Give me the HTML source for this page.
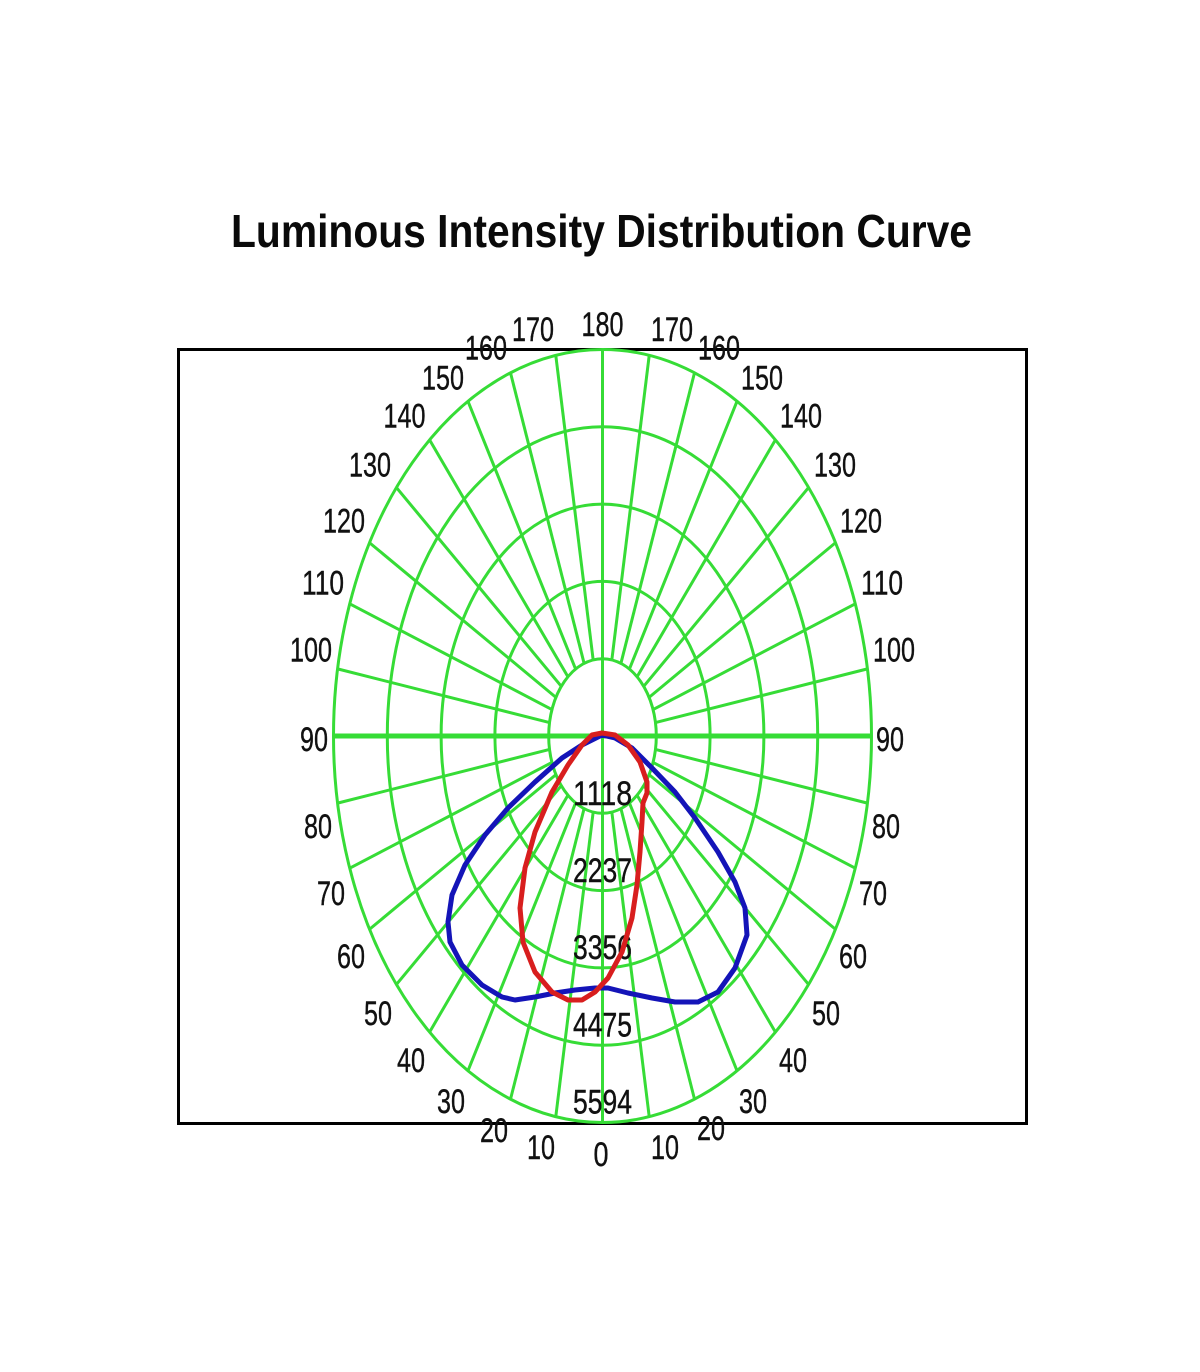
<!DOCTYPE html>
<html>
<head>
<meta charset="utf-8">
<style>
  html, body { margin: 0; padding: 0; background: #ffffff; }
  svg { display: block; }
  .lbl { font-family: "Liberation Sans", Arial, sans-serif; font-size: 34px; fill: #111; stroke: #111; stroke-width: 0.4px; text-anchor: middle; }
  .ttl { font-family: "Liberation Sans", Arial, sans-serif; font-size: 46px; font-weight: bold; fill: #0a0a0a; }
</style>
</head>
<body>
<svg width="1200" height="1372" viewBox="0 0 1200 1372" xmlns="http://www.w3.org/2000/svg">
  <rect x="0" y="0" width="1200" height="1372" fill="#ffffff"/>

  <!-- Title -->
  <text class="ttl" x="231" y="247" textLength="741" lengthAdjust="spacingAndGlyphs">Luminous Intensity Distribution Curve</text>

  <!-- Frame -->
  <rect x="178.5" y="349.5" width="848" height="774" fill="none" stroke="#000" stroke-width="3"/>

  <!-- Grid -->
  <g fill="none" stroke="#36dc36" stroke-width="3">
    <ellipse cx="602.5" cy="736" rx="53.8" ry="77.3"/>
    <ellipse cx="602.5" cy="736" rx="107.6" ry="154.6"/>
    <ellipse cx="602.5" cy="736" rx="161.4" ry="231.9"/>
    <ellipse cx="602.5" cy="736" rx="215.2" ry="309.2"/>
    <ellipse cx="602.5" cy="736" rx="269" ry="386.5"/>
  </g>
  <g transform="translate(602.5,736) scale(53.8,77.3)" stroke="#36dc36" fill="none">
    <g stroke-width="3">
      <line x1="0" y1="1" x2="0" y2="5" transform="rotate(10)" vector-effect="non-scaling-stroke"/>
      <line x1="0" y1="1" x2="0" y2="5" transform="rotate(20)" vector-effect="non-scaling-stroke"/>
      <line x1="0" y1="1" x2="0" y2="5" transform="rotate(30)" vector-effect="non-scaling-stroke"/>
      <line x1="0" y1="1" x2="0" y2="5" transform="rotate(40)" vector-effect="non-scaling-stroke"/>
      <line x1="0" y1="1" x2="0" y2="5" transform="rotate(50)" vector-effect="non-scaling-stroke"/>
      <line x1="0" y1="1" x2="0" y2="5" transform="rotate(60)" vector-effect="non-scaling-stroke"/>
      <line x1="0" y1="1" x2="0" y2="5" transform="rotate(70)" vector-effect="non-scaling-stroke"/>
      <line x1="0" y1="1" x2="0" y2="5" transform="rotate(80)" vector-effect="non-scaling-stroke"/>
      <line x1="0" y1="1" x2="0" y2="5" transform="rotate(100)" vector-effect="non-scaling-stroke"/>
      <line x1="0" y1="1" x2="0" y2="5" transform="rotate(110)" vector-effect="non-scaling-stroke"/>
      <line x1="0" y1="1" x2="0" y2="5" transform="rotate(120)" vector-effect="non-scaling-stroke"/>
      <line x1="0" y1="1" x2="0" y2="5" transform="rotate(130)" vector-effect="non-scaling-stroke"/>
      <line x1="0" y1="1" x2="0" y2="5" transform="rotate(140)" vector-effect="non-scaling-stroke"/>
      <line x1="0" y1="1" x2="0" y2="5" transform="rotate(150)" vector-effect="non-scaling-stroke"/>
      <line x1="0" y1="1" x2="0" y2="5" transform="rotate(160)" vector-effect="non-scaling-stroke"/>
      <line x1="0" y1="1" x2="0" y2="5" transform="rotate(170)" vector-effect="non-scaling-stroke"/>
      <line x1="0" y1="1" x2="0" y2="5" transform="rotate(190)" vector-effect="non-scaling-stroke"/>
      <line x1="0" y1="1" x2="0" y2="5" transform="rotate(200)" vector-effect="non-scaling-stroke"/>
      <line x1="0" y1="1" x2="0" y2="5" transform="rotate(210)" vector-effect="non-scaling-stroke"/>
      <line x1="0" y1="1" x2="0" y2="5" transform="rotate(220)" vector-effect="non-scaling-stroke"/>
      <line x1="0" y1="1" x2="0" y2="5" transform="rotate(230)" vector-effect="non-scaling-stroke"/>
      <line x1="0" y1="1" x2="0" y2="5" transform="rotate(240)" vector-effect="non-scaling-stroke"/>
      <line x1="0" y1="1" x2="0" y2="5" transform="rotate(250)" vector-effect="non-scaling-stroke"/>
      <line x1="0" y1="1" x2="0" y2="5" transform="rotate(260)" vector-effect="non-scaling-stroke"/>
      <line x1="0" y1="1" x2="0" y2="5" transform="rotate(280)" vector-effect="non-scaling-stroke"/>
      <line x1="0" y1="1" x2="0" y2="5" transform="rotate(290)" vector-effect="non-scaling-stroke"/>
      <line x1="0" y1="1" x2="0" y2="5" transform="rotate(300)" vector-effect="non-scaling-stroke"/>
      <line x1="0" y1="1" x2="0" y2="5" transform="rotate(310)" vector-effect="non-scaling-stroke"/>
      <line x1="0" y1="1" x2="0" y2="5" transform="rotate(320)" vector-effect="non-scaling-stroke"/>
      <line x1="0" y1="1" x2="0" y2="5" transform="rotate(330)" vector-effect="non-scaling-stroke"/>
      <line x1="0" y1="1" x2="0" y2="5" transform="rotate(340)" vector-effect="non-scaling-stroke"/>
      <line x1="0" y1="1" x2="0" y2="5" transform="rotate(350)" vector-effect="non-scaling-stroke"/>
      <line x1="0" y1="-5" x2="0" y2="5" vector-effect="non-scaling-stroke"/>
    </g>
    <line x1="-5" y1="0" x2="5" y2="0" stroke-width="5" vector-effect="non-scaling-stroke"/>
  </g>

  <!-- Angle labels -->
  <g>
    <text class="lbl" x="602.5" y="336" textLength="42" lengthAdjust="spacingAndGlyphs">180</text>
    <text class="lbl" x="533" y="341" textLength="42" lengthAdjust="spacingAndGlyphs">170</text>
    <text class="lbl" x="486" y="359.5" textLength="42" lengthAdjust="spacingAndGlyphs">160</text>
    <text class="lbl" x="443" y="389.5" textLength="42" lengthAdjust="spacingAndGlyphs">150</text>
    <text class="lbl" x="404.5" y="427.5" textLength="42" lengthAdjust="spacingAndGlyphs">140</text>
    <text class="lbl" x="370" y="476.5" textLength="42" lengthAdjust="spacingAndGlyphs">130</text>
    <text class="lbl" x="344" y="532.5" textLength="42" lengthAdjust="spacingAndGlyphs">120</text>
    <text class="lbl" x="323" y="594.5" textLength="42" lengthAdjust="spacingAndGlyphs">110</text>
    <text class="lbl" x="311" y="661.5" textLength="42" lengthAdjust="spacingAndGlyphs">100</text>
    <text class="lbl" x="314" y="751" textLength="28" lengthAdjust="spacingAndGlyphs">90</text>
    <text class="lbl" x="318" y="838" textLength="28" lengthAdjust="spacingAndGlyphs">80</text>
    <text class="lbl" x="331" y="905" textLength="28" lengthAdjust="spacingAndGlyphs">70</text>
    <text class="lbl" x="351" y="968" textLength="28" lengthAdjust="spacingAndGlyphs">60</text>
    <text class="lbl" x="378" y="1025" textLength="28" lengthAdjust="spacingAndGlyphs">50</text>
    <text class="lbl" x="411" y="1072" textLength="28" lengthAdjust="spacingAndGlyphs">40</text>
    <text class="lbl" x="451" y="1113" textLength="28" lengthAdjust="spacingAndGlyphs">30</text>
    <text class="lbl" x="494" y="1142" textLength="28" lengthAdjust="spacingAndGlyphs">20</text>
    <text class="lbl" x="541" y="1159" textLength="28" lengthAdjust="spacingAndGlyphs">10</text>
    <text class="lbl" x="601" y="1166" textLength="15" lengthAdjust="spacingAndGlyphs">0</text>

    <text class="lbl" x="672" y="341" textLength="42" lengthAdjust="spacingAndGlyphs">170</text>
    <text class="lbl" x="719" y="359.5" textLength="42" lengthAdjust="spacingAndGlyphs">160</text>
    <text class="lbl" x="762" y="389.5" textLength="42" lengthAdjust="spacingAndGlyphs">150</text>
    <text class="lbl" x="801" y="427.5" textLength="42" lengthAdjust="spacingAndGlyphs">140</text>
    <text class="lbl" x="835" y="476.5" textLength="42" lengthAdjust="spacingAndGlyphs">130</text>
    <text class="lbl" x="861" y="532.5" textLength="42" lengthAdjust="spacingAndGlyphs">120</text>
    <text class="lbl" x="882" y="594.5" textLength="42" lengthAdjust="spacingAndGlyphs">110</text>
    <text class="lbl" x="894" y="661.5" textLength="42" lengthAdjust="spacingAndGlyphs">100</text>
    <text class="lbl" x="890" y="751" textLength="28" lengthAdjust="spacingAndGlyphs">90</text>
    <text class="lbl" x="886" y="838" textLength="28" lengthAdjust="spacingAndGlyphs">80</text>
    <text class="lbl" x="873" y="905" textLength="28" lengthAdjust="spacingAndGlyphs">70</text>
    <text class="lbl" x="853" y="968" textLength="28" lengthAdjust="spacingAndGlyphs">60</text>
    <text class="lbl" x="826" y="1025" textLength="28" lengthAdjust="spacingAndGlyphs">50</text>
    <text class="lbl" x="793" y="1072" textLength="28" lengthAdjust="spacingAndGlyphs">40</text>
    <text class="lbl" x="753" y="1113" textLength="28" lengthAdjust="spacingAndGlyphs">30</text>
    <text class="lbl" x="711" y="1140" textLength="28" lengthAdjust="spacingAndGlyphs">20</text>
    <text class="lbl" x="665" y="1159" textLength="28" lengthAdjust="spacingAndGlyphs">10</text>
  </g>

  <!-- Ring value labels -->
  <g>
    <text class="lbl" x="602.5" y="805" textLength="59" lengthAdjust="spacingAndGlyphs">1118</text>
    <text class="lbl" x="602.5" y="882" textLength="59" lengthAdjust="spacingAndGlyphs">2237</text>
    <text class="lbl" x="602.5" y="959" textLength="59" lengthAdjust="spacingAndGlyphs">3356</text>
    <text class="lbl" x="602.5" y="1036.5" textLength="59" lengthAdjust="spacingAndGlyphs">4475</text>
    <text class="lbl" x="602.5" y="1113.5" textLength="59" lengthAdjust="spacingAndGlyphs">5594</text>
  </g>

  <!-- Blue curve -->
  <polyline fill="none" stroke="#1414b8" stroke-width="5" stroke-linejoin="round" stroke-linecap="round"
    points="602,735 582,745 562,758 535,782 508,808 485,835 465,865 452,895 448,922 450,942 462,965 482,985 502,997 515,1000 535,997 555,993 575,990 595,988 608,988 628,993 652,998 675,1002 698,1002 718,992 735,968 747,935 745,908 735,882 718,852 695,818 675,792 652,768 632,748 615,738 602,735"/>

  <!-- Red curve -->
  <polyline fill="none" stroke="#d81e1e" stroke-width="5" stroke-linejoin="round" stroke-linecap="round"
    points="602,733 592,735 582,745 568,765 552,792 535,832 525,868 520,908 523,942 535,972 552,992 568,1000 582,1000 595,992 608,978 622,952 632,918 637,885 640,852 642,822 643,803 647,793 647,782 640,762 628,745 615,735 602,733"/>
</svg>
</body>
</html>
